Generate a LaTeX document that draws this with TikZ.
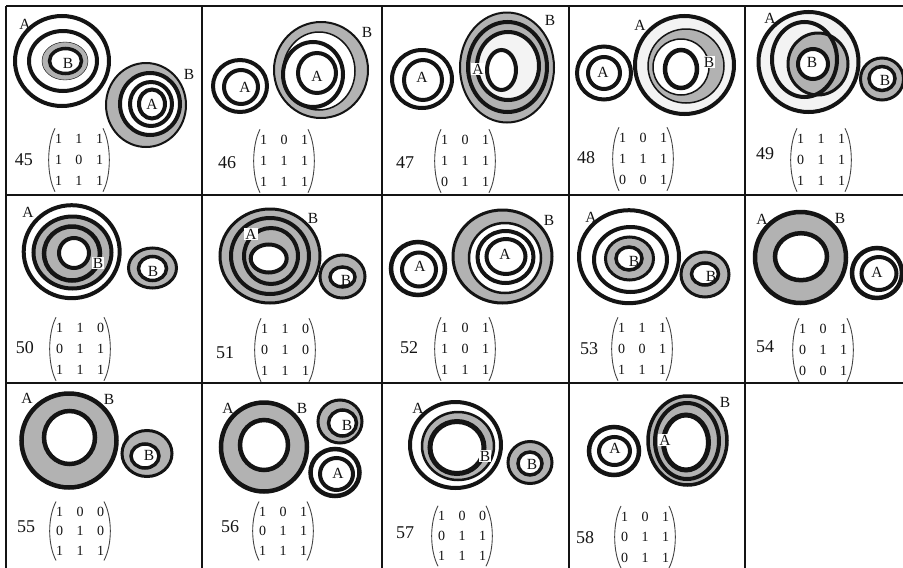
\documentclass[tikz,border=0pt]{standalone}
\usepackage{fontspec}
\setmainfont{Liberation Serif}
\usetikzlibrary{matrix}
\definecolor{gfill}{RGB}{178,178,178}
\definecolor{lfill}{RGB}{243,243,243}
\definecolor{ink}{RGB}{20,20,20}
\newcommand\ring[4][]{\draw[#1] (#2) ellipse [x radius=#3pt, y radius=#4pt];}
\newcommand\mparen[1]{%
  \draw[parenline] ([xshift=7pt,yshift=0pt]#1.north west) .. controls ([xshift=-1.5pt,yshift=-16pt]#1.north west) and ([xshift=-1.5pt,yshift=16pt]#1.south west) .. ([xshift=7pt,yshift=0pt]#1.south west);
  \draw[parenline] ([xshift=-7pt,yshift=0pt]#1.north east) .. controls ([xshift=1.5pt,yshift=-16pt]#1.north east) and ([xshift=1.5pt,yshift=16pt]#1.south east) .. ([xshift=-7pt,yshift=0pt]#1.south east);}
\begin{document}
\begin{tikzpicture}[x=1pt,y=-1pt,
  bk/.style={draw=ink,line width=#1pt},
  lab/.style={font=\fontsize{15.5}{15.5}\selectfont, inner sep=0.5pt, text=ink},
  wlab/.style={lab, fill=white, inner sep=1pt},
  num/.style={font=\fontsize{18}{18}\selectfont, inner sep=0pt, text=ink},
  gridline/.style={line width=2pt, draw=ink},
  parenline/.style={line width=0.9pt, draw=ink!80},
  mat/.style={matrix of nodes, inner sep=0pt, column sep=0pt, row sep=0pt,
    nodes={inner sep=0pt, minimum width=20.5pt, minimum height=#1pt, text=ink, font=\fontsize{14}{14}\selectfont}},
  mat/.default=21]
\useasboundingbox (0,0) rectangle (903,568);
\fill[white] (0,0) rectangle (903,568);

% ---------- grid ----------
\draw[gridline] (6,6) -- (903,6);
\draw[gridline] (6,195) -- (903,195);
\draw[gridline] (6,383) -- (903,383);
\draw[gridline] (6,6) -- (6,568);
\draw[gridline] (202,6) -- (202,568);
\draw[gridline] (382,6) -- (382,568);
\draw[gridline] (569,6) -- (569,568);
\draw[gridline] (745,6) -- (745,568);

% ---------- 45 ----------
\ring[bk=4]{62,61}{47}{45}
\ring[bk=4]{63,61}{34}{30}
\ring[fill=gfill]{65,61}{23}{19}
\ring[fill=white,bk=3.5]{65.5,61}{16}{12.5}
\ring[fill=gfill,bk=2]{146,105}{40}{42}
\ring[fill=white,bk=4]{150,104}{30}{31}
\ring[bk=4]{151,104}{21}{22}
\ring[bk=4]{152,104}{13}{14.5}
\node[lab] (a45a) at (25,24) {A};
\node[lab] (a45b) at (68,63) {B};
\node[lab] (a45c) at (152,104) {A};
\node[lab] (a45d) at (189,74) {B};
\node[num] (n45) at (24,160) {45};
\matrix (m45) at (79,160) [mat] {1 & 1 & 1\\ 1 & 0 & 1\\ 1 & 1 & 1\\};
\mparen{m45}

% ---------- 46 ----------
\ring[bk=4]{240,86}{27}{26}
\ring[bk=4]{241,87}{17}{17}
\ring[fill=gfill,bk=2]{321,70}{47}{48}
\ring[fill=white,bk=1.5]{319,71}{36}{39}
\ring[bk=4]{313,74.5}{30}{32.5}
\ring[bk=4]{317,73}{19}{20}
\node[lab] (a46a) at (245,87) {A};
\node[lab] (a46b) at (317,76) {A};
\node[lab] (a46c) at (367,32) {B};
\node[num] (n46) at (227,163) {46};
\matrix (m46) at (284,161) [mat] {1 & 0 & 1\\ 1 & 1 & 1\\ 1 & 1 & 1\\};
\mparen{m46}

% ---------- 47 ----------
\ring[bk=4]{422,79}{30}{29}
\ring[bk=4]{423,80}{19}{20}
\ring[fill=gfill,bk=2]{507,67.5}{47}{55}
\ring[bk=4]{507.5,67}{39.5}{45}
\ring[fill=lfill,bk=4]{508,66}{31}{34}
\ring[fill=white,bk=4]{501.5,70}{14.5}{20}
\node[lab] (a47a) at (422,77) {A};
\node[wlab] (a47b) at (478,69) {A};
\node[lab] (a47c) at (550,20) {B};
\node[num] (n47) at (405,163) {47};
\matrix (m47) at (465,161) [mat] {1 & 0 & 1\\ 1 & 1 & 1\\ 0 & 1 & 1\\};
\mparen{m47}

% ---------- 48 ----------
\ring[bk=4]{604,73}{27}{26.5}
\ring[bk=4]{604,73}{16}{16}
\ring[fill=lfill,bk=4]{684.5,65}{49.5}{49}
\ring[fill=gfill,bk=1.5]{686,66}{38}{37}
\ring[fill=white,bk=1.5]{681,67}{28}{28}
\ring[bk=4.5]{681,69}{16}{19}
\node[lab] (a48a) at (603,72) {A};
\node[lab] (a48b) at (640,25) {A};
\node[wlab] (a48c) at (709,62) {B};
\node[num] (n48) at (586,158) {48};
\matrix (m48) at (643,159) [mat] {1 & 0 & 1\\ 1 & 1 & 1\\ 0 & 0 & 1\\};
\mparen{m48}

% ---------- 49 ----------
\ring[fill=lfill,bk=4]{808.5,62}{50}{50}
\ring[fill=gfill,bk=3]{818,64}{30}{31}
\ring[bk=4]{804.5,59.5}{32.5}{37.5}
\ring[fill=white,bk=4]{813,64}{15}{15}
\ring[fill=gfill,bk=3]{882,79}{21.5}{21}
\ring[fill=white,bk=3.5]{882,78.5}{13}{12}
\node[lab] (a49a) at (770,18) {A};
\node[lab] (a49b) at (812,62) {B};
\node[lab] (a49c) at (885,80) {B};
\node[num] (n49) at (765,154) {49};
\matrix (m49) at (821,160) [mat] {1 & 1 & 1\\ 0 & 1 & 1\\ 1 & 1 & 1\\};
\mparen{m49}

% ---------- 50 ----------
\ring[bk=4]{71.7,251.7}{48}{46.5}
\ring[fill=gfill,bk=4]{72.5,252.5}{39}{36}
\ring[bk=4.5]{72,253.5}{28}{27}
\ring[fill=white,bk=4]{74,253}{15}{15}
\ring[fill=gfill,bk=3]{152.5,268}{24}{20}
\ring[fill=white,bk=3.5]{152.5,268.5}{14}{12}
\node[lab] (a50a) at (28,212) {A};
\node[wlab] (a50b) at (98,263) {B};
\node[lab] (a50c) at (153,271) {B};
\node[num] (n50) at (25,348) {50};
\matrix (m50) at (80,349) [mat] {1 & 1 & 0\\ 0 & 1 & 1\\ 1 & 1 & 1\\};
\mparen{m50}

% ---------- 51 ----------
\ring[fill=gfill,bk=3]{270,256}{50}{47}
\ring[bk=4]{270,256}{39}{38}
\ring[bk=4]{271,256}{27}{28}
\ring[fill=white,bk=4]{268.7,258.5}{18}{14}
\ring[fill=gfill,bk=3]{342.5,276.5}{22.5}{21.5}
\ring[fill=white,bk=3.5]{342.5,277}{12.5}{10}
\node[wlab] (a51a) at (251,234) {A};
\node[lab] (a51b) at (313,218) {B};
\node[lab] (a51c) at (346,280) {B};
\node[num] (n51) at (225,353) {51};
\matrix (m51) at (285,350) [mat] {1 & 1 & 0\\ 0 & 1 & 0\\ 1 & 1 & 1\\};
\mparen{m51}

% ---------- 52 ----------
\ring[bk=4.5]{418,268.5}{27}{26.5}
\ring[bk=4]{419,269.5}{17}{17}
\ring[fill=gfill,bk=3]{502.5,256.5}{49.5}{46.5}
\ring[fill=white,bk=2.5]{505,258}{36}{35}
\ring[bk=4]{505.5,257}{28}{26}
\ring[bk=4]{506,256.5}{19.5}{17.5}
\node[lab] (a52a) at (420,266) {A};
\node[lab] (a52b) at (505,254) {A};
\node[lab] (a52c) at (549,220) {B};
\node[num] (n52) at (409,348) {52};
\matrix (m52) at (465,349) [mat] {1 & 0 & 1\\ 1 & 0 & 1\\ 1 & 1 & 1\\};
\mparen{m52}

% ---------- 53 ----------
\ring[bk=4]{629,256.7}{50}{46.5}
\ring[bk=4]{630.5,259.5}{36.5}{32.5}
\ring[fill=gfill,bk=3]{629.5,258.5}{24}{21.5}
\ring[fill=white,bk=3.5]{629,258.5}{13}{11.5}
\ring[fill=gfill,bk=3]{705,274.5}{24}{22.5}
\ring[fill=white,bk=3.5]{705,274}{13.5}{11}
\node[lab] (a53a) at (591,217) {A};
\node[lab] (a53b) at (634,261) {B};
\node[lab] (a53c) at (711,276) {B};
\node[num] (n53) at (589,349) {53};
\matrix (m53) at (642,349) [mat] {1 & 1 & 1\\ 0 & 0 & 1\\ 1 & 1 & 1\\};
\mparen{m53}

% ---------- 54 ----------
\ring[fill=gfill,bk=4.5]{800.5,257.5}{45.5}{45.5}
\ring[fill=white,bk=4.5]{801,256.7}{26}{23.5}
\ring[bk=4.5]{877,273}{25}{25}
\ring[bk=4]{879,273.5}{17.5}{16.5}
\node[lab] (a54a) at (762,219) {A};
\node[lab] (a54b) at (840,218) {B};
\node[lab] (a54c) at (877,272) {A};
\node[num] (n54) at (765,347) {54};
\matrix (m54) at (823,350) [mat] {1 & 0 & 1\\ 0 & 1 & 1\\ 0 & 0 & 1\\};
\mparen{m54}

% ---------- 55 ----------
\ring[fill=gfill,bk=4.5]{69,440.5}{47.5}{47}
\ring[fill=white,bk=4.5]{69.5,437.5}{25.5}{26.5}
\ring[fill=gfill,bk=3]{147,453.5}{25}{23}
\ring[fill=white,bk=3.5]{145,456}{14}{12}
\node[lab] (a55a) at (27,398) {A};
\node[lab] (a55b) at (109,399) {B};
\node[lab] (a55c) at (149,455) {B};
\node[num] (n55) at (26,527) {55};
\matrix (m55) at (80,531) [mat=19.5] {1 & 0 & 0\\ 0 & 1 & 0\\ 1 & 1 & 1\\};
\mparen{m55}

% ---------- 56 ----------
\ring[fill=gfill,bk=4.5]{264,447}{43}{44.5}
\ring[fill=white,bk=4.5]{264,445}{24}{25}
\ring[fill=gfill,bk=3]{340,421.5}{22}{21.5}
\ring[fill=white,bk=3.5]{342.5,423}{14}{13}
\ring[bk=4.5]{335,472.5}{24.5}{23.5}
\ring[bk=4]{336.5,474}{16.5}{16}
\node[lab] (a56a) at (228,408) {A};
\node[lab] (a56b) at (302,408) {B};
\node[lab] (a56c) at (347,425) {B};
\node[lab] (a56d) at (338,473) {A};
\node[num] (n56) at (230,527) {56};
\matrix (m56) at (283,531) [mat=19.5] {1 & 0 & 1\\ 0 & 1 & 1\\ 1 & 1 & 1\\};
\mparen{m56}

% ---------- 57 ----------
\ring[bk=4]{455.5,445}{45.5}{43}
\ring[fill=gfill,bk=2.5]{458,446}{36}{34}
\ring[fill=white,bk=5]{457,447.5}{27}{26}
\ring[fill=gfill,bk=3]{530,462.5}{22}{21}
\ring[fill=white,bk=3.5]{530,463.5}{12}{11.5}
\node[lab] (a57a) at (418,408) {A};
\node[wlab] (a57b) at (485,456) {B};
\node[lab] (a57c) at (532,464) {B};
\node[num] (n57) at (405,533) {57};
\matrix (m57) at (462,536) [mat=20] {1 & 0 & 0\\ 0 & 1 & 1\\ 1 & 1 & 1\\};
\mparen{m57}

% ---------- 58 ----------
\ring[bk=4.5]{614,451}{25}{24}
\ring[bk=4]{614.5,451}{15.5}{14}
\ring[fill=gfill,bk=3.5]{687.5,440.5}{39.5}{44.5}
\ring[bk=4]{687,441}{32}{38}
\ring[fill=white,bk=5]{686,442.5}{22.5}{27.5}
\node[lab] (a58a) at (615,448) {A};
\node[wlab] (a58b) at (665,440) {A};
\node[lab] (a58c) at (725,402) {B};
\node[num] (n58) at (585,538) {58};
\matrix (m58) at (645,537) [mat=20.5] {1 & 0 & 1\\ 0 & 1 & 1\\ 0 & 1 & 1\\};
\mparen{m58}
\end{tikzpicture}
\end{document}
